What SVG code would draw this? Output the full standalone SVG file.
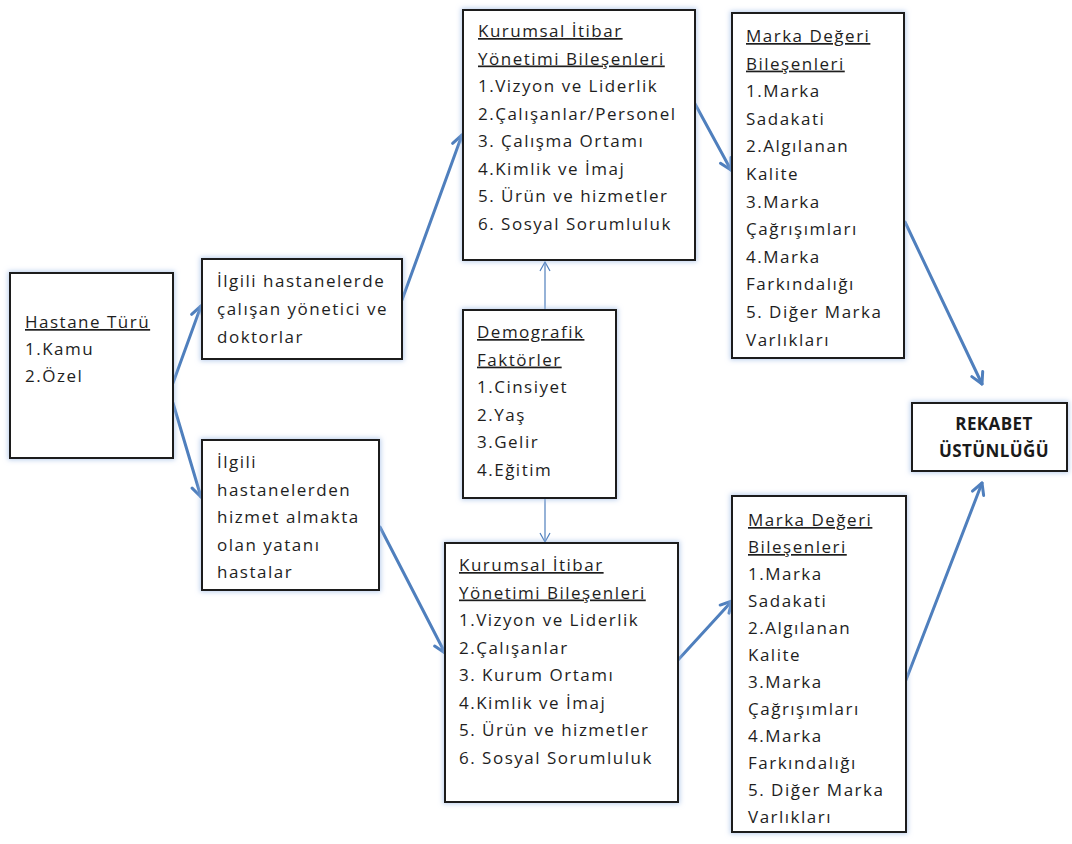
<svg xmlns="http://www.w3.org/2000/svg" width="1072" height="844" viewBox="0 0 1072 844">
  <style>
    .box { fill: #ffffff; stroke: #1a1a1a; stroke-width: 2; filter: url(#glow); }
    .t { font-family: "Open Sans", "Noto Sans", "Liberation Sans", sans-serif; font-size: 17px; letter-spacing: 1.5px; fill: #1e1e1e; }
    .u { text-decoration: underline; }
    .b { font-family: "Open Sans", "Noto Sans", "Liberation Sans", sans-serif; font-size: 17px; font-weight: bold; letter-spacing: 0.4px; fill: #1a1a1a; text-anchor: middle; }
    .link { fill: none; stroke: #4f7fbd; stroke-width: 3; stroke-linecap: round; marker-end: url(#arrow); }
    .thin { fill: none; stroke: #4f7fbd; stroke-width: 1.2; marker-end: url(#arrowThin); }
  </style>
  <defs>
    <filter id="glow" x="-10%" y="-10%" width="120%" height="120%">
      <feMorphology in="SourceAlpha" operator="dilate" radius="1" result="d"/>
      <feGaussianBlur in="d" stdDeviation="2.5" result="b"/>
      <feFlood flood-color="#9ebbe6" flood-opacity="0.7"/>
      <feComposite in2="b" operator="in" result="s"/>
      <feMerge><feMergeNode in="s"/><feMergeNode in="SourceGraphic"/></feMerge>
    </filter>
    <marker id="arrow" markerUnits="userSpaceOnUse" markerWidth="16" markerHeight="16" refX="13" refY="8" orient="auto">
      <path d="M2,2 L13,8 L2,14" fill="none" stroke="#4f7fbd" stroke-width="3" stroke-linecap="round" stroke-linejoin="round"/>
    </marker>
    <marker id="arrowThin" markerUnits="userSpaceOnUse" markerWidth="12" markerHeight="12" refX="10" refY="6" orient="auto">
      <path d="M1,1 L10,6 L1,11" fill="none" stroke="#4f7fbd" stroke-width="1.2"/>
    </marker>
  </defs>

  <rect width="1072" height="844" fill="#ffffff"/>

  <!-- connectors -->
  <g id="connectors">
    <line class="link" x1="173" y1="383" x2="201" y2="306"/>
    <line class="link" x1="173" y1="403" x2="201" y2="497"/>
    <line class="link" x1="402" y1="300" x2="462" y2="135"/>
    <line class="link" x1="694" y1="102" x2="731" y2="170"/>
    <line class="link" x1="380" y1="527" x2="445" y2="653"/>
    <line class="link" x1="678" y1="660" x2="732" y2="601"/>
    <line class="link" x1="905" y1="222" x2="982" y2="384"/>
    <line class="link" x1="906" y1="680" x2="982" y2="483"/>
    <line class="thin" x1="545" y1="310" x2="545" y2="262"/>
    <line class="thin" x1="545" y1="498" x2="545" y2="542"/>
  </g>

  <!-- hospital type -->
  <g id="hastane-turu">
    <rect class="box" x="10" y="273" width="163" height="185"/>
    <text class="t u" x="25" y="328">Hastane Türü</text>
    <text class="t" x="25" y="355">1.Kamu</text>
    <text class="t" x="25" y="382">2.Özel</text>
  </g>

  <!-- staff group -->
  <g id="calisanlar">
    <rect class="box" x="202" y="259" width="200" height="100"/>
    <text class="t" x="217" y="287">İlgili hastanelerde</text>
    <text class="t" x="217" y="315">çalışan yönetici ve</text>
    <text class="t" x="217" y="343">doktorlar</text>
  </g>

  <!-- patient group -->
  <g id="hastalar">
    <rect class="box" x="202" y="440" width="177" height="150"/>
    <text class="t" x="217" y="468">İlgili</text>
    <text class="t" x="217" y="495.5">hastanelerden</text>
    <text class="t" x="217" y="523">hizmet almakta</text>
    <text class="t" x="217" y="550.5">olan yatanı</text>
    <text class="t" x="217" y="578">hastalar</text>
  </g>

  <!-- reputation components, staff -->
  <g id="itibar-ust">
    <rect class="box" x="463" y="10" width="232" height="250"/>
    <text class="t u" x="478" y="37">Kurumsal İtibar</text>
    <text class="t u" x="478" y="64.5">Yönetimi Bileşenleri</text>
    <text class="t" x="478" y="92">1.Vizyon ve Liderlik</text>
    <text class="t" x="478" y="119.5">2.Çalışanlar/Personel</text>
    <text class="t" x="478" y="147">3. Çalışma Ortamı</text>
    <text class="t" x="478" y="174.5">4.Kimlik ve İmaj</text>
    <text class="t" x="478" y="202">5. Ürün ve hizmetler</text>
    <text class="t" x="478" y="229.5">6. Sosyal Sorumluluk</text>
  </g>

  <!-- brand value components, staff -->
  <g id="marka-ust">
    <rect class="box" x="732" y="13" width="172" height="345"/>
    <text class="t u" x="746" y="42">Marka Değeri</text>
    <text class="t u" x="746" y="69.6">Bileşenleri</text>
    <text class="t" x="746" y="97.2">1.Marka</text>
    <text class="t" x="746" y="124.8">Sadakati</text>
    <text class="t" x="746" y="152.4">2.Algılanan</text>
    <text class="t" x="746" y="180">Kalite</text>
    <text class="t" x="746" y="207.6">3.Marka</text>
    <text class="t" x="746" y="235.2">Çağrışımları</text>
    <text class="t" x="746" y="262.8">4.Marka</text>
    <text class="t" x="746" y="290.4">Farkındalığı</text>
    <text class="t" x="746" y="318">5. Diğer Marka</text>
    <text class="t" x="746" y="345.6">Varlıkları</text>
  </g>

  <!-- demographic factors -->
  <g id="demografik">
    <rect class="box" x="463" y="310" width="153" height="188"/>
    <text class="t u" x="477" y="338">Demografik</text>
    <text class="t u" x="477" y="365.6">Faktörler</text>
    <text class="t" x="477" y="393.2">1.Cinsiyet</text>
    <text class="t" x="477" y="420.8">2.Yaş</text>
    <text class="t" x="477" y="448.4">3.Gelir</text>
    <text class="t" x="477" y="476">4.Eğitim</text>
  </g>

  <!-- reputation components, patients -->
  <g id="itibar-alt">
    <rect class="box" x="445" y="543" width="233" height="259"/>
    <text class="t u" x="459" y="571">Kurumsal İtibar</text>
    <text class="t u" x="459" y="598.5">Yönetimi Bileşenleri</text>
    <text class="t" x="459" y="626">1.Vizyon ve Liderlik</text>
    <text class="t" x="459" y="653.5">2.Çalışanlar</text>
    <text class="t" x="459" y="681">3. Kurum Ortamı</text>
    <text class="t" x="459" y="708.5">4.Kimlik ve İmaj</text>
    <text class="t" x="459" y="736">5. Ürün ve hizmetler</text>
    <text class="t" x="459" y="763.5">6. Sosyal Sorumluluk</text>
  </g>

  <!-- brand value components, patients -->
  <g id="marka-alt">
    <rect class="box" x="732" y="496" width="174" height="336"/>
    <text class="t u" x="748" y="526">Marka Değeri</text>
    <text class="t u" x="748" y="553">Bileşenleri</text>
    <text class="t" x="748" y="580">1.Marka</text>
    <text class="t" x="748" y="607">Sadakati</text>
    <text class="t" x="748" y="634">2.Algılanan</text>
    <text class="t" x="748" y="661">Kalite</text>
    <text class="t" x="748" y="688">3.Marka</text>
    <text class="t" x="748" y="715">Çağrışımları</text>
    <text class="t" x="748" y="742">4.Marka</text>
    <text class="t" x="748" y="769">Farkındalığı</text>
    <text class="t" x="748" y="796">5. Diğer Marka</text>
    <text class="t" x="748" y="823">Varlıkları</text>
  </g>

  <!-- competitive advantage -->
  <g id="rekabet">
    <rect class="box" x="912" y="403" width="155" height="68"/>
    <text class="b" x="994" y="430">REKABET</text>
    <text class="b" x="994" y="457">ÜSTÜNLÜĞÜ</text>
  </g>
</svg>
